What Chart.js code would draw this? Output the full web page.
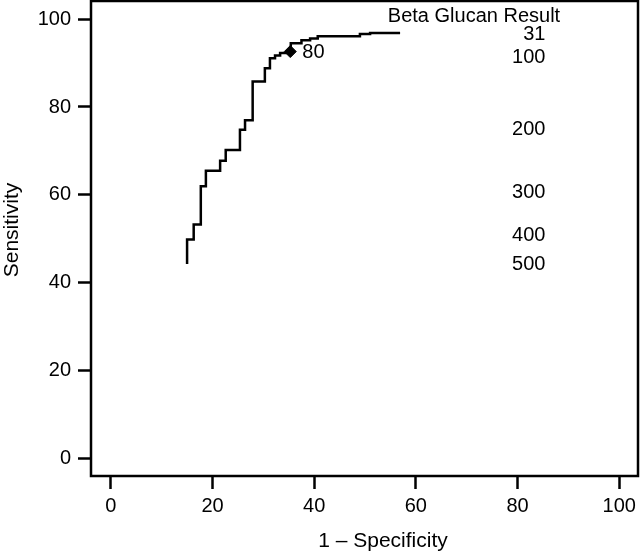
<!DOCTYPE html>
<html>
<head>
<meta charset="utf-8">
<script src="https://cdn.jsdelivr.net/npm/chart.js@4/dist/chart.umd.min.js"></script>
<style>
  html, body { margin: 0; padding: 0; background: #fff; }
  #wrap { width: 640px; height: 553px; }
</style>
</head>
<body>
<div id="wrap"><canvas id="rocChart"></canvas></div>
<script>
// ROC curve (stepped)
const fpr = [15.0, 16.3, 17.7, 18.7, 21.5, 22.6, 25.4, 26.4, 27.9, 30.3, 31.3, 32.3, 33.3, 35.4, 37.5, 39.2, 40.7, 49.0, 51.0, 56.9];
const sensitivity = [44.3, 49.9, 53.3, 62.0, 65.5, 67.8, 70.2, 74.8, 77.0, 85.8, 88.8, 91.1, 91.7, 92.3, 94.5, 95.2, 95.6, 96.1, 96.6, 96.8];

// highlighted cutoff
const markerFpr = [35.3];
const markerSens = [92.6];
const markerLabel = '80';

// cutoff scale on the right
const cutoffLabels = ['31', '100', '200', '300', '400', '500'];
const cutoffSens = [96.5, 91.3, 74.9, 60.6, 50.8, 44.3];
const cutoffTitle = 'Beta Glucan Result';

const xTicks = [0, 20, 40, 60, 80, 100];
const yTicks = [0, 20, 40, 60, 80, 100];
const xTitle = '1 \u2013 Specificity';
const yTitle = 'Sensitivity';

const FONT = "'Liberation Sans', Arial, Helvetica, sans-serif";
const tickFont = { family: FONT, size: 20 };

const extras = {
    id: 'extras',
    afterDraw(chart) {
        const ctx = chart.ctx;
        const a = chart.chartArea;
        const xs = chart.scales.x;
        const ys = chart.scales.y;
        ctx.save();
        // box round the plot
        ctx.strokeStyle = '#000';
        ctx.lineWidth = 2.5;
        ctx.strokeRect(a.left, a.top, a.right - a.left, a.bottom - a.top);

        ctx.fillStyle = '#000';
        ctx.font = "20px " + FONT;

        // label next to the marker
        ctx.textAlign = 'left';
        ctx.textBaseline = 'middle';
        ctx.fillText(markerLabel, xs.getPixelForValue(markerFpr[0]) + 12, ys.getPixelForValue(markerSens[0]) + 1);

        // cutoff values
        ctx.textAlign = 'right';
        const cx = xs.getPixelForValue(85.5);
        cutoffLabels.forEach((lab, i) => {
            ctx.fillText(lab, cx, ys.getPixelForValue(cutoffSens[i]));
        });
        ctx.textAlign = 'center';
        ctx.textBaseline = 'alphabetic';
        ctx.fillText(cutoffTitle, 474, 22);

        // axis titles
        ctx.font = "21px " + FONT;
        ctx.fillText(xTitle, 383, 547);
        ctx.translate(18, 230);
        ctx.rotate(-Math.PI / 2);
        ctx.fillText(yTitle, 0, 0);
        ctx.restore();
    }
};

new Chart(document.getElementById('rocChart').getContext('2d'), {
    type: 'scatter',
    data: {
        datasets: [{
            data: fpr.map((x, i) => ({ x: x, y: sensitivity[i] })),
            showLine: true,
            stepped: 'after',
            borderColor: '#000',
            borderWidth: 2.5,
            pointRadius: 0,
            fill: false
        }, {
            data: markerFpr.map((x, i) => ({ x: x, y: markerSens[i] })),
            pointStyle: 'rectRot',
            pointRadius: 6,
            backgroundColor: '#000',
            borderColor: '#000',
            borderWidth: 1
        }]
    },
    options: {
        responsive: true,
        maintainAspectRatio: false,
        animation: false,
        layout: { autoPadding: false, padding: { top: 1, right: 2, left: 0, bottom: 0 } },
        plugins: {
            legend: { display: false },
            tooltip: { enabled: false }
        },
        scales: {
            x: {
                type: 'linear',
                min: -3.9,
                max: 103.7,
                afterBuildTicks: s => { s.ticks = xTicks.map(v => ({ value: v })); },
                afterFit: s => { s.height = 77; s.paddingLeft = 0; s.paddingRight = 0; },
                border: { display: false },
                grid: { drawOnChartArea: false, drawTicks: true, tickLength: 13, tickWidth: 2.5, color: '#000' },
                ticks: { color: '#000', font: tickFont, padding: 5, maxRotation: 0, autoSkip: false }
            },
            y: {
                type: 'linear',
                min: -3.9,
                max: 104.1,
                afterBuildTicks: s => { s.ticks = yTicks.map(v => ({ value: v })); },
                afterFit: s => { s.width = 91; s.paddingTop = 0; s.paddingBottom = 0; },
                border: { display: false },
                grid: { drawOnChartArea: false, drawTicks: true, tickLength: 13, tickWidth: 2.5, color: '#000' },
                ticks: { color: '#000', font: tickFont, padding: 7, autoSkip: false }
            }
        }
    },
    plugins: [extras]
});
</script>
</body>
</html>
